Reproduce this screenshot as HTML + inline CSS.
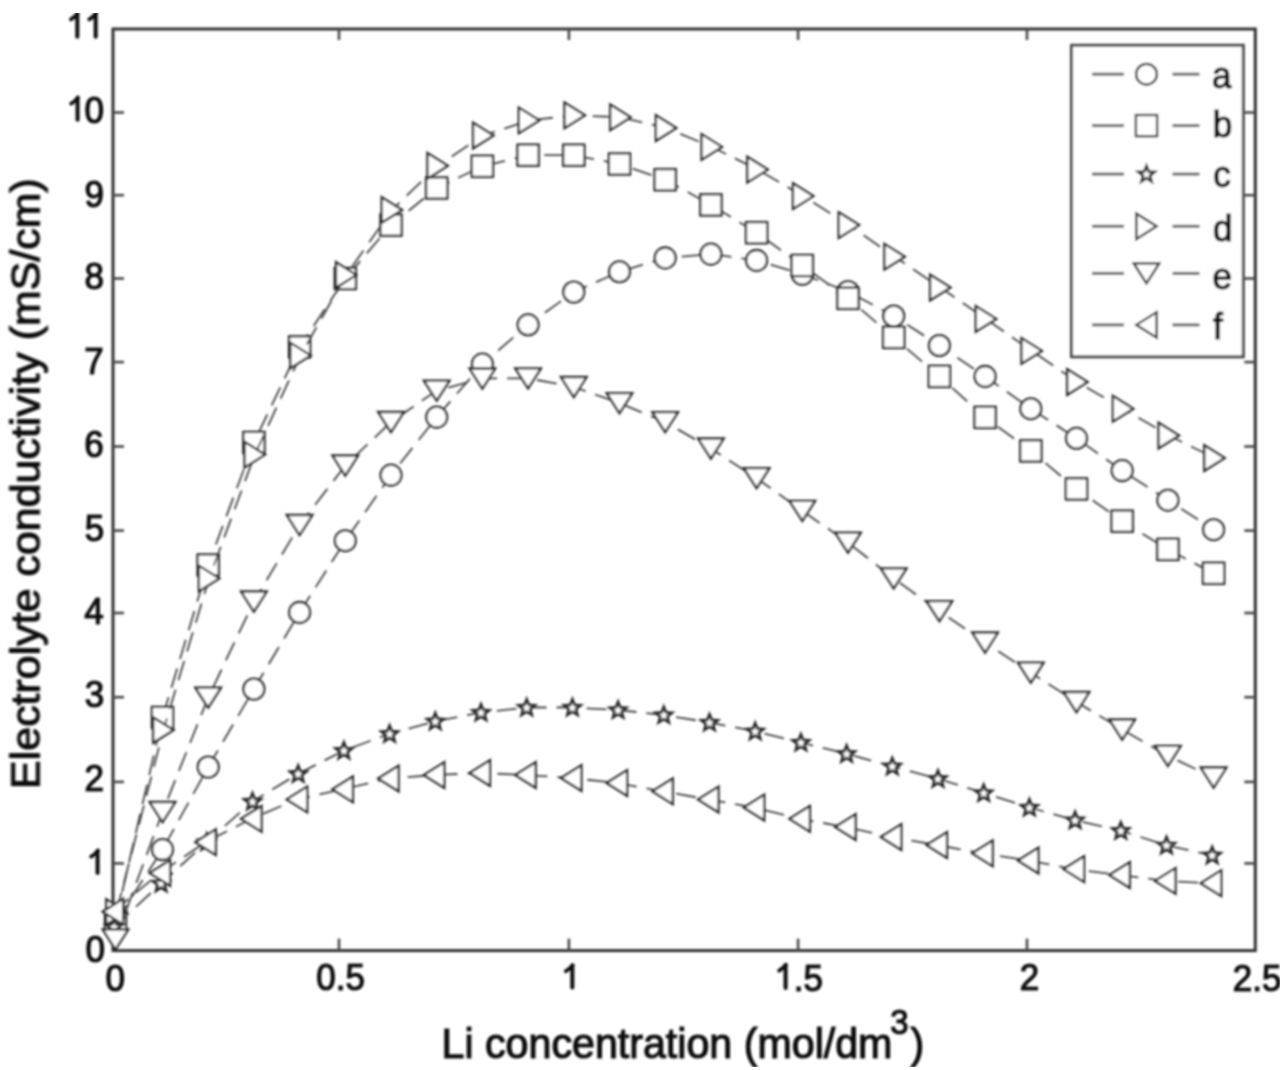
<!DOCTYPE html>
<html><head><meta charset="utf-8"><style>
html,body{margin:0;padding:0;background:#fff;overflow:hidden;}
svg{display:block;}
text{font-family:"Liberation Sans",sans-serif;fill:#111;stroke:#111;stroke-width:1.15px;}
</style></head><body>
<svg width="1280" height="1070" viewBox="0 0 1280 1070">
<defs><filter id="bl" x="0" y="0" width="100%" height="100%"><feGaussianBlur stdDeviation="0.85"/></filter></defs>
<rect width="1280" height="1070" fill="#fff"/>
<g filter="url(#bl)">
<rect x="113.0" y="29.0" width="1142.3" height="921.6" stroke="#303030" stroke-width="3.0" fill="none"/>
<g stroke="#4a4a4a" stroke-width="2.6" fill="none">
<line x1="113.0" y1="112.5" x2="124.0" y2="112.5"/><line x1="1255.3" y1="112.5" x2="1244.3" y2="112.5"/>
<line x1="113.0" y1="195.2" x2="124.0" y2="195.2"/><line x1="1255.3" y1="195.2" x2="1244.3" y2="195.2"/>
<line x1="113.0" y1="278.5" x2="124.0" y2="278.5"/><line x1="1255.3" y1="278.5" x2="1244.3" y2="278.5"/>
<line x1="113.0" y1="362.1" x2="124.0" y2="362.1"/><line x1="1255.3" y1="362.1" x2="1244.3" y2="362.1"/>
<line x1="113.0" y1="446.5" x2="124.0" y2="446.5"/><line x1="1255.3" y1="446.5" x2="1244.3" y2="446.5"/>
<line x1="113.0" y1="530.6" x2="124.0" y2="530.6"/><line x1="1255.3" y1="530.6" x2="1244.3" y2="530.6"/>
<line x1="113.0" y1="613.0" x2="124.0" y2="613.0"/><line x1="1255.3" y1="613.0" x2="1244.3" y2="613.0"/>
<line x1="113.0" y1="697.2" x2="124.0" y2="697.2"/><line x1="1255.3" y1="697.2" x2="1244.3" y2="697.2"/>
<line x1="113.0" y1="781.9" x2="124.0" y2="781.9"/><line x1="1255.3" y1="781.9" x2="1244.3" y2="781.9"/>
<line x1="113.0" y1="863.4" x2="124.0" y2="863.4"/><line x1="1255.3" y1="863.4" x2="1244.3" y2="863.4"/>
<line x1="339.0" y1="950.6" x2="339.0" y2="938.6"/><line x1="339.0" y1="29.0" x2="339.0" y2="40.0"/>
<line x1="568.9" y1="950.6" x2="568.9" y2="938.6"/><line x1="568.9" y1="29.0" x2="568.9" y2="40.0"/>
<line x1="798.1" y1="950.6" x2="798.1" y2="938.6"/><line x1="798.1" y1="29.0" x2="798.1" y2="40.0"/>
<line x1="1027.0" y1="950.6" x2="1027.0" y2="938.6"/><line x1="1027.0" y1="29.0" x2="1027.0" y2="40.0"/>
</g>
<polyline points="115.5,922.0 162.5,849.6 208.2,767.0 253.9,689.0 299.6,612.4 345.3,540.7 391.0,475.1 436.7,417.1 482.4,364.1 528.1,324.8 573.8,292.0 619.5,271.8 665.2,257.9 710.9,254.1 756.6,260.4 802.3,274.3 848.0,291.5 893.7,316.0 939.4,345.5 985.1,376.4 1030.8,408.7 1076.5,438.3 1122.2,470.6 1167.9,500.2 1213.6,529.7" fill="none" stroke="#444" stroke-width="1.8" stroke-dasharray="20 10"/>
<g fill="#fff" stroke="#2c2c2c" stroke-width="2.3">
<circle cx="115.5" cy="922.0" r="10.4"/>
<circle cx="162.5" cy="849.6" r="10.4"/>
<circle cx="208.2" cy="767.0" r="10.4"/>
<circle cx="253.9" cy="689.0" r="10.4"/>
<circle cx="299.6" cy="612.4" r="10.4"/>
<circle cx="345.3" cy="540.7" r="10.4"/>
<circle cx="391.0" cy="475.1" r="10.4"/>
<circle cx="436.7" cy="417.1" r="10.4"/>
<circle cx="482.4" cy="364.1" r="10.4"/>
<circle cx="528.1" cy="324.8" r="10.4"/>
<circle cx="573.8" cy="292.0" r="10.4"/>
<circle cx="619.5" cy="271.8" r="10.4"/>
<circle cx="665.2" cy="257.9" r="10.4"/>
<circle cx="710.9" cy="254.1" r="10.4"/>
<circle cx="756.6" cy="260.4" r="10.4"/>
<circle cx="802.3" cy="274.3" r="10.4"/>
<circle cx="848.0" cy="291.5" r="10.4"/>
<circle cx="893.7" cy="316.0" r="10.4"/>
<circle cx="939.4" cy="345.5" r="10.4"/>
<circle cx="985.1" cy="376.4" r="10.4"/>
<circle cx="1030.8" cy="408.7" r="10.4"/>
<circle cx="1076.5" cy="438.3" r="10.4"/>
<circle cx="1122.2" cy="470.6" r="10.4"/>
<circle cx="1167.9" cy="500.2" r="10.4"/>
<circle cx="1213.6" cy="529.7" r="10.4"/>
</g>
<polyline points="115.5,921.0 162.5,717.5 208.2,565.0 253.9,442.5 299.6,346.9 345.3,278.5 391.0,225.1 436.7,188.0 482.4,166.3 528.1,155.2 573.8,155.2 619.5,164.0 665.2,179.7 710.9,204.9 756.6,232.7 802.3,265.5 848.0,298.3 893.7,337.4 939.4,376.4 985.1,417.4 1030.8,450.9 1076.5,488.9 1122.2,521.2 1167.9,549.4 1213.6,573.3" fill="none" stroke="#444" stroke-width="1.8" stroke-dasharray="20 10"/>
<g fill="#fff" stroke="#2c2c2c" stroke-width="2.3">
<rect x="104.9" y="910.4" width="21.2" height="21.2"/>
<rect x="151.9" y="706.9" width="21.2" height="21.2"/>
<rect x="197.6" y="554.4" width="21.2" height="21.2"/>
<rect x="243.3" y="431.9" width="21.2" height="21.2"/>
<rect x="289.0" y="336.3" width="21.2" height="21.2"/>
<rect x="334.7" y="267.9" width="21.2" height="21.2"/>
<rect x="380.4" y="214.5" width="21.2" height="21.2"/>
<rect x="426.1" y="177.4" width="21.2" height="21.2"/>
<rect x="471.8" y="155.7" width="21.2" height="21.2"/>
<rect x="517.5" y="144.6" width="21.2" height="21.2"/>
<rect x="563.2" y="144.6" width="21.2" height="21.2"/>
<rect x="608.9" y="153.4" width="21.2" height="21.2"/>
<rect x="654.6" y="169.1" width="21.2" height="21.2"/>
<rect x="700.3" y="194.3" width="21.2" height="21.2"/>
<rect x="746.0" y="222.1" width="21.2" height="21.2"/>
<rect x="791.7" y="254.9" width="21.2" height="21.2"/>
<rect x="837.4" y="287.7" width="21.2" height="21.2"/>
<rect x="883.1" y="326.8" width="21.2" height="21.2"/>
<rect x="928.8" y="365.8" width="21.2" height="21.2"/>
<rect x="974.5" y="406.8" width="21.2" height="21.2"/>
<rect x="1020.2" y="440.3" width="21.2" height="21.2"/>
<rect x="1065.9" y="478.3" width="21.2" height="21.2"/>
<rect x="1111.6" y="510.6" width="21.2" height="21.2"/>
<rect x="1157.3" y="538.8" width="21.2" height="21.2"/>
<rect x="1203.0" y="562.7" width="21.2" height="21.2"/>
</g>
<polyline points="114.1,927.0 161.1,883.4 206.8,842.0 252.5,801.5 298.2,773.8 343.9,750.6 389.6,733.8 435.3,721.3 481.0,712.5 526.7,707.5 572.4,707.5 618.1,710.0 663.8,715.0 709.5,722.5 755.2,731.3 800.9,742.5 846.6,753.8 892.3,766.3 938.0,778.8 983.7,793.0 1029.4,807.5 1075.1,820.2 1120.8,830.7 1166.5,845.4 1212.2,855.3" fill="none" stroke="#444" stroke-width="1.8" stroke-dasharray="20 10"/>
<g fill="#fff" stroke="#2c2c2c" stroke-width="2.3">
<polygon points="114.1,918.9 116.3,924.4 122.2,924.8 117.6,928.5 119.1,934.3 114.1,931.1 109.1,934.3 110.6,928.5 106.0,924.8 111.9,924.4" stroke-width="2.75"/>
<polygon points="161.1,875.3 163.3,880.8 169.2,881.2 164.6,884.9 166.1,890.7 161.1,887.5 156.1,890.7 157.6,884.9 153.0,881.2 158.9,880.8" stroke-width="2.75"/>
<polygon points="206.8,833.9 209.0,839.4 214.9,839.8 210.3,843.5 211.8,849.3 206.8,846.1 201.8,849.3 203.3,843.5 198.7,839.8 204.6,839.4" stroke-width="2.75"/>
<polygon points="252.5,793.4 254.7,798.9 260.6,799.3 256.0,803.0 257.5,808.8 252.5,805.6 247.5,808.8 249.0,803.0 244.4,799.3 250.3,798.9" stroke-width="2.75"/>
<polygon points="298.2,765.7 300.4,771.2 306.3,771.6 301.7,775.3 303.2,781.1 298.2,777.9 293.2,781.1 294.7,775.3 290.1,771.6 296.0,771.2" stroke-width="2.75"/>
<polygon points="343.9,742.5 346.1,748.0 352.0,748.4 347.4,752.1 348.9,757.9 343.9,754.7 338.9,757.9 340.4,752.1 335.8,748.4 341.7,748.0" stroke-width="2.75"/>
<polygon points="389.6,725.7 391.8,731.2 397.7,731.6 393.1,735.3 394.6,741.1 389.6,737.9 384.6,741.1 386.1,735.3 381.5,731.6 387.4,731.2" stroke-width="2.75"/>
<polygon points="435.3,713.2 437.5,718.7 443.4,719.1 438.8,722.8 440.3,728.6 435.3,725.4 430.3,728.6 431.8,722.8 427.2,719.1 433.1,718.7" stroke-width="2.75"/>
<polygon points="481.0,704.4 483.2,709.9 489.1,710.3 484.5,714.0 486.0,719.8 481.0,716.6 476.0,719.8 477.5,714.0 472.9,710.3 478.8,709.9" stroke-width="2.75"/>
<polygon points="526.7,699.4 528.9,704.9 534.8,705.3 530.2,709.0 531.7,714.8 526.7,711.6 521.7,714.8 523.2,709.0 518.6,705.3 524.5,704.9" stroke-width="2.75"/>
<polygon points="572.4,699.4 574.6,704.9 580.5,705.3 575.9,709.0 577.4,714.8 572.4,711.6 567.4,714.8 568.9,709.0 564.3,705.3 570.2,704.9" stroke-width="2.75"/>
<polygon points="618.1,701.9 620.3,707.4 626.2,707.8 621.6,711.5 623.1,717.3 618.1,714.1 613.1,717.3 614.6,711.5 610.0,707.8 615.9,707.4" stroke-width="2.75"/>
<polygon points="663.8,706.9 666.0,712.4 671.9,712.8 667.3,716.5 668.8,722.3 663.8,719.1 658.8,722.3 660.3,716.5 655.7,712.8 661.6,712.4" stroke-width="2.75"/>
<polygon points="709.5,714.4 711.7,719.9 717.6,720.3 713.0,724.0 714.5,729.8 709.5,726.6 704.5,729.8 706.0,724.0 701.4,720.3 707.3,719.9" stroke-width="2.75"/>
<polygon points="755.2,723.2 757.4,728.7 763.3,729.1 758.7,732.8 760.2,738.6 755.2,735.4 750.2,738.6 751.7,732.8 747.1,729.1 753.0,728.7" stroke-width="2.75"/>
<polygon points="800.9,734.4 803.1,739.9 809.0,740.3 804.4,744.0 805.9,749.8 800.9,746.6 795.9,749.8 797.4,744.0 792.8,740.3 798.7,739.9" stroke-width="2.75"/>
<polygon points="846.6,745.7 848.8,751.2 854.7,751.6 850.1,755.3 851.6,761.1 846.6,757.9 841.6,761.1 843.1,755.3 838.5,751.6 844.4,751.2" stroke-width="2.75"/>
<polygon points="892.3,758.2 894.5,763.7 900.4,764.1 895.8,767.8 897.3,773.6 892.3,770.4 887.3,773.6 888.8,767.8 884.2,764.1 890.1,763.7" stroke-width="2.75"/>
<polygon points="938.0,770.7 940.2,776.2 946.1,776.6 941.5,780.3 943.0,786.1 938.0,782.9 933.0,786.1 934.5,780.3 929.9,776.6 935.8,776.2" stroke-width="2.75"/>
<polygon points="983.7,784.9 985.9,790.4 991.8,790.8 987.2,794.5 988.7,800.3 983.7,797.1 978.7,800.3 980.2,794.5 975.6,790.8 981.5,790.4" stroke-width="2.75"/>
<polygon points="1029.4,799.4 1031.6,804.9 1037.5,805.3 1032.9,809.0 1034.4,814.8 1029.4,811.6 1024.4,814.8 1025.9,809.0 1021.3,805.3 1027.2,804.9" stroke-width="2.75"/>
<polygon points="1075.1,812.1 1077.3,817.6 1083.2,818.0 1078.6,821.7 1080.1,827.5 1075.1,824.3 1070.1,827.5 1071.6,821.7 1067.0,818.0 1072.9,817.6" stroke-width="2.75"/>
<polygon points="1120.8,822.6 1123.0,828.1 1128.9,828.5 1124.3,832.2 1125.8,838.0 1120.8,834.8 1115.8,838.0 1117.3,832.2 1112.7,828.5 1118.6,828.1" stroke-width="2.75"/>
<polygon points="1166.5,837.3 1168.7,842.8 1174.6,843.2 1170.0,846.9 1171.5,852.7 1166.5,849.5 1161.5,852.7 1163.0,846.9 1158.4,843.2 1164.3,842.8" stroke-width="2.75"/>
<polygon points="1212.2,847.2 1214.4,852.7 1220.3,853.1 1215.7,856.8 1217.2,862.6 1212.2,859.4 1207.2,862.6 1208.7,856.8 1204.1,853.1 1210.0,852.7" stroke-width="2.75"/>
</g>
<polyline points="116.4,912.0 163.4,730.0 209.1,578.4 254.8,454.6 300.5,355.4 346.2,275.0 391.9,210.0 437.6,165.8 483.3,135.5 529.0,120.4 574.7,115.3 620.4,117.3 666.1,128.0 711.8,146.9 757.5,169.6 803.2,196.1 848.9,225.1 894.6,256.7 940.3,287.5 986.0,318.9 1031.7,350.9 1077.4,382.0 1123.1,408.7 1168.8,435.5 1214.5,458.0" fill="none" stroke="#444" stroke-width="1.8" stroke-dasharray="20 10"/>
<g fill="#fff" stroke="#2c2c2c" stroke-width="2.3">
<polygon points="106.2,899.2 126.6,912.0 106.2,924.8"/>
<polygon points="153.2,717.2 173.6,730.0 153.2,742.8"/>
<polygon points="198.9,565.6 219.3,578.4 198.9,591.2"/>
<polygon points="244.6,441.8 265.0,454.6 244.6,467.4"/>
<polygon points="290.3,342.6 310.7,355.4 290.3,368.2"/>
<polygon points="336.0,262.2 356.4,275.0 336.0,287.8"/>
<polygon points="381.7,197.2 402.1,210.0 381.7,222.8"/>
<polygon points="427.4,153.0 447.8,165.8 427.4,178.6"/>
<polygon points="473.1,122.7 493.5,135.5 473.1,148.3"/>
<polygon points="518.8,107.6 539.2,120.4 518.8,133.2"/>
<polygon points="564.5,102.5 584.9,115.3 564.5,128.1"/>
<polygon points="610.2,104.5 630.6,117.3 610.2,130.1"/>
<polygon points="655.9,115.2 676.3,128.0 655.9,140.8"/>
<polygon points="701.6,134.1 722.0,146.9 701.6,159.7"/>
<polygon points="747.3,156.8 767.7,169.6 747.3,182.4"/>
<polygon points="793.0,183.3 813.4,196.1 793.0,208.9"/>
<polygon points="838.7,212.3 859.1,225.1 838.7,237.9"/>
<polygon points="884.4,243.9 904.8,256.7 884.4,269.5"/>
<polygon points="930.1,274.7 950.5,287.5 930.1,300.3"/>
<polygon points="975.8,306.1 996.2,318.9 975.8,331.7"/>
<polygon points="1021.5,338.1 1041.9,350.9 1021.5,363.7"/>
<polygon points="1067.2,369.2 1087.6,382.0 1067.2,394.8"/>
<polygon points="1112.9,395.9 1133.3,408.7 1112.9,421.5"/>
<polygon points="1158.6,422.7 1179.0,435.5 1158.6,448.3"/>
<polygon points="1204.3,445.2 1224.7,458.0 1204.3,470.8"/>
</g>
<polyline points="115.5,939.3 162.5,812.0 208.2,697.6 253.9,601.5 299.6,525.0 345.3,465.5 391.0,422.0 436.7,390.6 482.4,378.5 528.1,378.3 573.8,387.0 619.5,403.1 665.2,422.1 710.9,448.5 756.6,478.2 802.3,510.8 848.0,542.6 893.7,578.4 939.4,611.2 985.1,642.5 1030.8,672.7 1076.5,702.0 1122.2,729.5 1167.9,755.9 1213.6,777.5" fill="none" stroke="#444" stroke-width="1.8" stroke-dasharray="20 10"/>
<g fill="#fff" stroke="#2c2c2c" stroke-width="2.3">
<polygon points="102.7,929.3 128.3,929.3 115.5,949.3"/>
<polygon points="149.7,802.0 175.3,802.0 162.5,822.0"/>
<polygon points="195.4,687.6 221.0,687.6 208.2,707.6"/>
<polygon points="241.1,591.5 266.7,591.5 253.9,611.5"/>
<polygon points="286.8,515.0 312.4,515.0 299.6,535.0"/>
<polygon points="332.5,455.5 358.1,455.5 345.3,475.5"/>
<polygon points="378.2,412.0 403.8,412.0 391.0,432.0"/>
<polygon points="423.9,380.6 449.5,380.6 436.7,400.6"/>
<polygon points="469.6,368.5 495.2,368.5 482.4,388.5"/>
<polygon points="515.3,368.3 540.9,368.3 528.1,388.3"/>
<polygon points="561.0,377.0 586.6,377.0 573.8,397.0"/>
<polygon points="606.7,393.1 632.3,393.1 619.5,413.1"/>
<polygon points="652.4,412.1 678.0,412.1 665.2,432.1"/>
<polygon points="698.1,438.5 723.7,438.5 710.9,458.5"/>
<polygon points="743.8,468.2 769.4,468.2 756.6,488.2"/>
<polygon points="789.5,500.8 815.1,500.8 802.3,520.8"/>
<polygon points="835.2,532.6 860.8,532.6 848.0,552.6"/>
<polygon points="880.9,568.4 906.5,568.4 893.7,588.4"/>
<polygon points="926.6,601.2 952.2,601.2 939.4,621.2"/>
<polygon points="972.3,632.5 997.9,632.5 985.1,652.5"/>
<polygon points="1018.0,662.7 1043.6,662.7 1030.8,682.7"/>
<polygon points="1063.7,692.0 1089.3,692.0 1076.5,712.0"/>
<polygon points="1109.4,719.5 1135.0,719.5 1122.2,739.5"/>
<polygon points="1155.1,745.9 1180.7,745.9 1167.9,765.9"/>
<polygon points="1200.8,767.5 1226.4,767.5 1213.6,787.5"/>
</g>
<polyline points="112.9,911.7 159.9,873.0 205.6,842.2 251.3,818.8 297.0,799.4 342.7,789.3 388.4,778.5 434.1,775.0 479.8,773.0 525.5,775.0 571.2,778.0 616.9,783.0 662.6,791.3 708.3,799.5 754.0,807.5 799.7,818.8 845.4,827.0 891.1,837.0 936.8,845.0 982.5,853.3 1028.2,860.5 1073.9,869.1 1119.6,875.0 1165.3,880.9 1211.0,883.2" fill="none" stroke="#444" stroke-width="1.8" stroke-dasharray="20 10"/>
<g fill="#fff" stroke="#2c2c2c" stroke-width="2.3">
<polygon points="123.1,898.9 102.7,911.7 123.1,924.5"/>
<polygon points="170.1,860.2 149.7,873.0 170.1,885.8"/>
<polygon points="215.8,829.4 195.4,842.2 215.8,855.0"/>
<polygon points="261.5,806.0 241.1,818.8 261.5,831.6"/>
<polygon points="307.2,786.6 286.8,799.4 307.2,812.2"/>
<polygon points="352.9,776.5 332.5,789.3 352.9,802.1"/>
<polygon points="398.6,765.7 378.2,778.5 398.6,791.3"/>
<polygon points="444.3,762.2 423.9,775.0 444.3,787.8"/>
<polygon points="490.0,760.2 469.6,773.0 490.0,785.8"/>
<polygon points="535.7,762.2 515.3,775.0 535.7,787.8"/>
<polygon points="581.4,765.2 561.0,778.0 581.4,790.8"/>
<polygon points="627.1,770.2 606.7,783.0 627.1,795.8"/>
<polygon points="672.8,778.5 652.4,791.3 672.8,804.1"/>
<polygon points="718.5,786.7 698.1,799.5 718.5,812.3"/>
<polygon points="764.2,794.7 743.8,807.5 764.2,820.3"/>
<polygon points="809.9,806.0 789.5,818.8 809.9,831.6"/>
<polygon points="855.6,814.2 835.2,827.0 855.6,839.8"/>
<polygon points="901.3,824.2 880.9,837.0 901.3,849.8"/>
<polygon points="947.0,832.2 926.6,845.0 947.0,857.8"/>
<polygon points="992.7,840.5 972.3,853.3 992.7,866.1"/>
<polygon points="1038.4,847.7 1018.0,860.5 1038.4,873.3"/>
<polygon points="1084.1,856.3 1063.7,869.1 1084.1,881.9"/>
<polygon points="1129.8,862.2 1109.4,875.0 1129.8,887.8"/>
<polygon points="1175.5,868.1 1155.1,880.9 1175.5,893.7"/>
<polygon points="1221.2,870.4 1200.8,883.2 1221.2,896.0"/>
</g>
<rect x="1071.5" y="45.3" width="171.8" height="311.5" fill="#fff" stroke="#4a4a4a" stroke-width="3"/>
<g stroke="#666" stroke-width="3">
<line x1="1092" y1="74.2" x2="1124" y2="74.2"/><line x1="1172.5" y1="74.2" x2="1199.5" y2="74.2"/>
<line x1="1092" y1="125.6" x2="1124" y2="125.6"/><line x1="1172.5" y1="125.6" x2="1199.5" y2="125.6"/>
<line x1="1092" y1="174.1" x2="1124" y2="174.1"/><line x1="1172.5" y1="174.1" x2="1199.5" y2="174.1"/>
<line x1="1092" y1="226.3" x2="1124" y2="226.3"/><line x1="1172.5" y1="226.3" x2="1199.5" y2="226.3"/>
<line x1="1092" y1="273.4" x2="1124" y2="273.4"/><line x1="1172.5" y1="273.4" x2="1199.5" y2="273.4"/>
<line x1="1092" y1="324.9" x2="1124" y2="324.9"/><line x1="1172.5" y1="324.9" x2="1199.5" y2="324.9"/>
</g>
<g fill="#fff" stroke="#2c2c2c" stroke-width="2.3">
<circle cx="1146.5" cy="74.2" r="10.4"/>
<rect x="1135.9" y="115.0" width="21.2" height="21.2"/>
<polygon points="1146.5,166.0 1148.7,171.5 1154.6,171.9 1150.0,175.6 1151.5,181.4 1146.5,178.2 1141.5,181.4 1143.0,175.6 1138.4,171.9 1144.3,171.5" stroke-width="2.75"/>
<polygon points="1136.3,213.5 1156.7,226.3 1136.3,239.1"/>
<polygon points="1133.7,263.4 1159.3,263.4 1146.5,283.4"/>
<polygon points="1156.7,312.1 1136.3,324.9 1156.7,337.7"/>
</g>
<text transform="translate(94.12,206.93) scale(1,1.04)" font-size="35" text-anchor="middle">9</text>
<text transform="translate(94.19,289.45) scale(1,1.04)" font-size="35" text-anchor="middle">8</text>
<text transform="translate(93.93,373.83) scale(1,1.04)" font-size="35" text-anchor="middle">7</text>
<text transform="translate(93.98,456.93) scale(1,1.04)" font-size="35" text-anchor="middle">6</text>
<text transform="translate(94.38,541.31) scale(1,1.04)" font-size="35" text-anchor="middle">5</text>
<text transform="translate(93.95,624.45) scale(1,1.04)" font-size="35" text-anchor="middle">4</text>
<text transform="translate(94.38,707.07) scale(1,1.04)" font-size="35" text-anchor="middle">3</text>
<text transform="translate(94.19,791.34) scale(1,1.04)" font-size="35" text-anchor="middle">2</text>
<text transform="translate(95.16,962.40) scale(1,1.04)" font-size="35" text-anchor="middle">0</text>
<text transform="translate(94.11,123.21) scale(1,1.04)" font-size="35" text-anchor="middle">0</text>
<text transform="translate(115.28,990.68) scale(1,1.04)" font-size="35" text-anchor="middle">0</text>
<text transform="translate(340.69,990.34) scale(1,1.04)" font-size="35" text-anchor="middle">0.5</text>
<text transform="translate(808.43,990.66) scale(1,1.04)" font-size="35" text-anchor="middle">.5</text>
<text transform="translate(1029.48,990.34) scale(1,1.04)" font-size="35" text-anchor="middle">2</text>
<text transform="translate(1257.16,990.62) scale(1,1.04)" font-size="35" text-anchor="middle">2.5</text>
<text transform="translate(1221.74,88.31) scale(1,1.04)" font-size="35" text-anchor="middle">a</text>
<text transform="translate(1222.48,136.74) scale(1,1.04)" font-size="35" text-anchor="middle">b</text>
<text transform="translate(1222.12,187.20) scale(1,1.04)" font-size="35" text-anchor="middle">c</text>
<text transform="translate(1222.64,241.02) scale(1,1.04)" font-size="35" text-anchor="middle">d</text>
<text transform="translate(1222.24,289.20) scale(1,1.04)" font-size="35" text-anchor="middle">e</text>
<text transform="translate(1217.88,338.88) scale(1,1.04)" font-size="35" text-anchor="middle">f</text>
<path d="M77.30,36.80 L77.30,13.60" fill="none" stroke="#111" stroke-width="4.0" stroke-linecap="round"/>
<path d="M77.70,13.40 Q75.10,17.00 70.90,19.40" fill="none" stroke="#111" stroke-width="3.8" stroke-linecap="round"/>
<path d="M95.70,36.80 L95.70,13.60" fill="none" stroke="#111" stroke-width="4.0" stroke-linecap="round"/>
<path d="M96.10,13.40 Q93.50,17.00 89.30,19.40" fill="none" stroke="#111" stroke-width="3.8" stroke-linecap="round"/>
<path d="M77.60,119.70 L77.60,97.80" fill="none" stroke="#111" stroke-width="4.0" stroke-linecap="round"/>
<path d="M78.00,97.60 Q75.40,101.20 71.20,103.60" fill="none" stroke="#111" stroke-width="3.8" stroke-linecap="round"/>
<path d="M97.60,873.10 L97.60,850.80" fill="none" stroke="#111" stroke-width="4.0" stroke-linecap="round"/>
<path d="M98.00,850.60 Q95.40,854.20 91.20,856.60" fill="none" stroke="#111" stroke-width="3.8" stroke-linecap="round"/>
<path d="M572.30,987.60 L572.30,965.40" fill="none" stroke="#111" stroke-width="4.0" stroke-linecap="round"/>
<path d="M572.70,965.20 Q570.10,968.80 565.90,971.20" fill="none" stroke="#111" stroke-width="3.8" stroke-linecap="round"/>
<path d="M785.60,988.10 L785.60,964.90" fill="none" stroke="#111" stroke-width="4.0" stroke-linecap="round"/>
<path d="M786.00,964.70 Q783.40,968.30 779.20,970.70" fill="none" stroke="#111" stroke-width="3.8" stroke-linecap="round"/>
<text transform="translate(441.50,1057.50) scale(1,1.04)" font-size="41.2" text-anchor="start">Li concentration (mol/dm</text>
<text transform="translate(890.20,1033.60) scale(1,1.04)" font-size="33" text-anchor="start">3</text>
<text transform="translate(910.50,1057.50) scale(1,1.04)" font-size="41.2" text-anchor="start">)</text>
<text transform="translate(39.5,789) rotate(-90) scale(1.035,1)" font-size="41.5">Electrolyte conductivity (mS/cm)</text>
</g></svg></body></html>
